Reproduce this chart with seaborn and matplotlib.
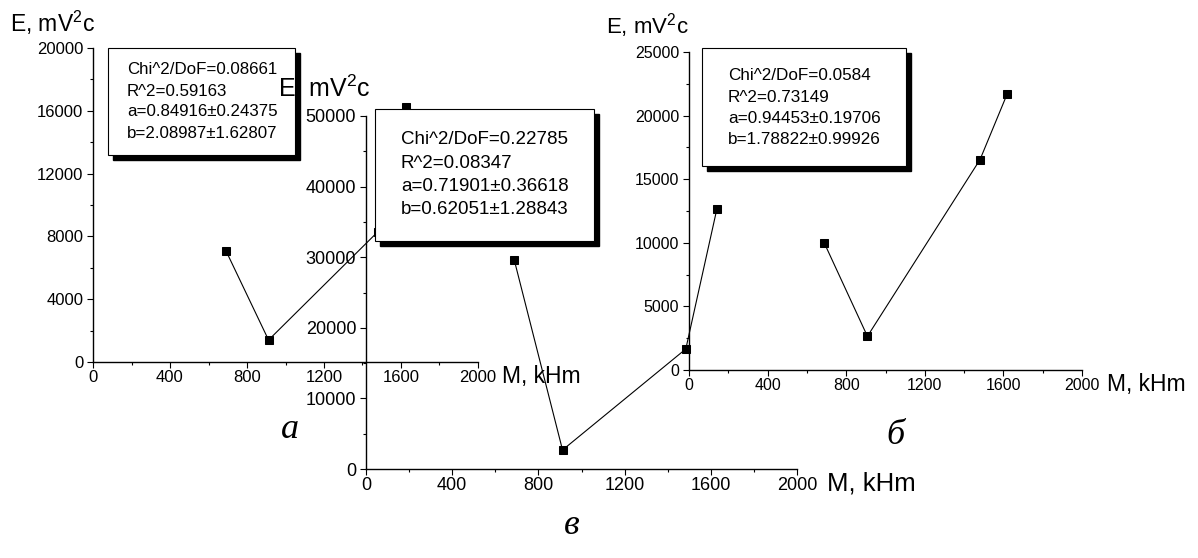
import matplotlib
matplotlib.use("Agg")
import matplotlib.pyplot as plt
from matplotlib.patches import Rectangle
from matplotlib.ticker import MultipleLocator
import seaborn as sns

# data (M in kHm, E in mV^2 c)
A_M = [690, 912, 1480, 1624]
A_E = [7100, 1400, 8300, 16240]
B_M = [688, 908, 1481, 1620]
B_E = [10000, 2650, 16540, 21730]
C_M = [688, 912, 1484, 1628]
C_E = [29600, 2690, 17000, 36800]

A_FIT = ["Chi^2/DoF=0.08661", "R^2=0.59163", "a=0.84916±0.24375", "b=2.08987±1.62807"]
B_FIT = ["Chi^2/DoF=0.0584", "R^2=0.73149", "a=0.94453±0.19706", "b=1.78822±0.99926"]
C_FIT = ["Chi^2/DoF=0.22785", "R^2=0.08347", "a=0.71901±0.36618", "b=0.62051±1.28843"]

X_LABEL = "M, kHm"
Y_LABEL = r"E, mV$^2$c"

sns.set_style("ticks")
plt.rcParams["font.family"] = ["Liberation Sans", "DejaVu Sans"]
plt.rcParams["mathtext.default"] = "regular"
plt.rcParams["text.color"] = "black"
plt.rcParams["xtick.color"] = "black"
plt.rcParams["ytick.color"] = "black"
plt.rcParams["axes.edgecolor"] = "black"

W, H = 1198, 558
fig = plt.figure(figsize=(W / 100, H / 100), dpi=100)


def fx(x):
    return x / W


def fy(y):
    return 1 - y / H


def make_axes(left, top, right, bottom, ymax, ystep, tick_size, z):
    ax = fig.add_axes([fx(left), fy(bottom), (right - left) / W, (bottom - top) / H])
    ax.set_zorder(z)
    ax.patch.set_alpha(0)
    ax.set_xlim(0, 2000)
    ax.set_ylim(0, ymax)
    ax.xaxis.set_major_locator(MultipleLocator(400))
    ax.xaxis.set_minor_locator(MultipleLocator(200))
    ax.yaxis.set_major_locator(MultipleLocator(ystep))
    ax.yaxis.set_minor_locator(MultipleLocator(ystep / 2))
    for s in ["top", "right"]:
        ax.spines[s].set_visible(False)
    for s in ["left", "bottom"]:
        ax.spines[s].set_linewidth(1.0)
    ax.tick_params(which="major", direction="out", length=4, width=0.8,
                   labelsize=tick_size, colors="black")
    ax.tick_params(which="minor", direction="out", length=2.5, width=0.8)
    ax.tick_params(axis="x", pad=1.5)
    ax.tick_params(axis="y", pad=3)
    ax.set_xlabel("")
    ax.set_ylabel("")
    return ax


def fit_box(ax, x0, y0, x1, y1, lines, tx, ty, dy, size):
    # shadow first, then white box, then the fit text
    ax.add_patch(Rectangle((fx(x0 + 5), fy(y1 + 5)), (x1 - x0) / W, (y1 - y0) / H,
                           transform=fig.transFigure, facecolor="black",
                           edgecolor="black", clip_on=False, zorder=5))
    ax.add_patch(Rectangle((fx(x0), fy(y1)), (x1 - x0) / W, (y1 - y0) / H,
                           transform=fig.transFigure, facecolor="white",
                           edgecolor="black", linewidth=0.8, clip_on=False, zorder=6))
    for i, line in enumerate(lines):
        ax.text(fx(tx), fy(ty + i * dy), line, transform=fig.transFigure,
                ha="left", va="center", fontsize=size, zorder=7)


def plot_panel(ax, m, e):
    sns.lineplot(x=m, y=e, ax=ax, color="black", linewidth=0.8, marker="s",
                 markersize=5.5, markerfacecolor="black", markeredgecolor="black",
                 clip_on=False)


# panel a
ax_a = make_axes(93, 48, 478, 362, 20000, 4000, 12, 1)
plot_panel(ax_a, A_M, A_E)
fit_box(ax_a, 108, 48, 295, 155, A_FIT, 127, 70, 21, 12.2)
ax_a.text(fx(10), fy(32), Y_LABEL, transform=fig.transFigure, fontsize=16.5,
          ha="left", va="baseline")
ax_a.text(fx(502), fy(376), X_LABEL, transform=fig.transFigure, fontsize=16.5,
          ha="left", va="center")
ax_a.text(fx(290), fy(430), "а", transform=fig.transFigure, fontsize=26,
          family="Liberation Serif", style="italic", ha="center", va="center")

# panel v (drawn over panel a)
ax_c = make_axes(366, 116, 797, 469, 50000, 10000, 13, 2)
plot_panel(ax_c, C_M, C_E)
fit_box(ax_c, 375, 109, 594, 241, C_FIT, 401, 140, 23.3, 13.5)
ax_c.text(fx(278), fy(96), Y_LABEL, transform=fig.transFigure, fontsize=18,
          ha="left", va="baseline")
ax_c.text(fx(827), fy(483), X_LABEL, transform=fig.transFigure, fontsize=18.5,
          ha="left", va="center")
ax_c.text(fx(572), fy(525), "в", transform=fig.transFigure, fontsize=26,
          family="Liberation Serif", style="italic", ha="center", va="center")

# panel b
ax_b = make_axes(689, 52, 1082, 370, 25000, 5000, 11.5, 3)
plot_panel(ax_b, B_M, B_E)
fit_box(ax_b, 702, 48, 906, 166, B_FIT, 728, 76, 21.2, 12.3)
ax_b.text(fx(606), fy(33), Y_LABEL, transform=fig.transFigure, fontsize=16,
          ha="left", va="baseline")
ax_b.text(fx(1107), fy(385), X_LABEL, transform=fig.transFigure, fontsize=16.5,
          ha="left", va="center")
ax_b.text(fx(895), fy(435), "б", transform=fig.transFigure, fontsize=26,
          family="Liberation Serif", style="italic", ha="center", va="center")

fig.savefig("out.png", dpi=100, facecolor="white")
